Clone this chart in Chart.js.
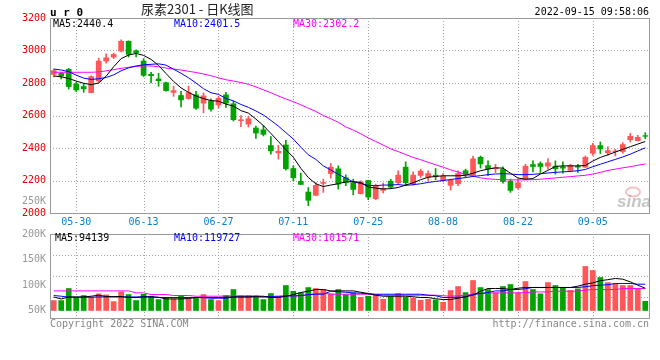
<!DOCTYPE html>
<html>
<head>
<meta charset="utf-8">
<script src="https://cdn.jsdelivr.net/npm/chart.js@4/dist/chart.umd.min.js"></script>
<style>
    html, body { margin: 0; padding: 0; background: #fff; }
    #wrap { position: relative; width: 660px; height: 360px; }
    #wrap canvas { position: absolute; left: 0; top: 0; }
</style>
</head>
<body>
<div id="wrap">
    <canvas id="kChart" width="660" height="360"></canvas>
    <canvas id="volChart" width="660" height="360"></canvas>
</div>
<script>
const dates = ['05-25','05-26','05-27','05-30','05-31','06-01','06-02','06-06','06-07','06-08',
    '06-09','06-10','06-13','06-14','06-15','06-16','06-17','06-20','06-21','06-22',
    '06-23','06-24','06-27','06-28','06-29','06-30','07-01','07-04','07-05','07-06',
    '07-07','07-08','07-11','07-12','07-13','07-14','07-15','07-18','07-19','07-20',
    '07-21','07-22','07-25','07-26','07-27','07-28','07-29','08-01','08-02','08-03',
    '08-04','08-05','08-08','08-09','08-10','08-11','08-12','08-15','08-16','08-17',
    '08-18','08-19','08-22','08-23','08-24','08-25','08-26','08-29','08-30','08-31',
    '09-01','09-02','09-05','09-06','09-07','09-08','09-09','09-13','09-14','09-15'];
const tickDates = ['05-30','06-13','06-27','07-11','07-25','08-08','08-22','09-05'];

const openP = [2851,2861,2886,2796,2780,2739,2810,2933,2957,2994,
    3059,3000,2937,2855,2827,2804,2740,2725,2702,2729,
    2674,2692,2663,2729,2674,2566,2545,2525,2514,2417,
    2368,2421,2276,2196,2131,2107,2180,2241,2274,2219,
    2188,2117,2202,2086,2137,2198,2184,2284,2178,2229,
    2219,2235,2198,2168,2178,2262,2229,2345,2294,2270,
    2270,2198,2153,2208,2300,2306,2286,2290,2286,2260,
    2288,2280,2366,2417,2368,2376,2376,2449,2443,2478];
const highP = [2886,2866,2890,2804,2796,2845,2953,2980,2984,3065,
    3059,3004,2950,2865,2860,2806,2780,2749,2780,2749,
    2739,2702,2718,2743,2688,2600,2596,2535,2539,2470,
    2417,2447,2290,2245,2157,2188,2208,2305,2290,2235,
    2208,2198,2202,2178,2184,2208,2260,2315,2253,2270,
    2260,2274,2243,2208,2260,2270,2351,2351,2321,2300,
    2284,2208,2208,2300,2321,2315,2335,2321,2315,2300,
    2300,2351,2429,2437,2408,2392,2433,2490,2478,2494];
const lowP = [2838,2825,2763,2747,2743,2739,2804,2922,2951,2992,
    2960,2960,2840,2800,2780,2749,2718,2653,2700,2637,
    2616,2627,2647,2649,2566,2531,2529,2459,2474,2362,
    2331,2264,2198,2174,2045,2107,2127,2215,2147,2168,
    2111,2117,2082,2082,2123,2151,2178,2168,2172,2219,
    2198,2204,2192,2141,2168,2219,2229,2276,2229,2249,
    2184,2127,2147,2208,2253,2249,2270,2239,2245,2253,
    2249,2280,2355,2366,2355,2351,2368,2437,2443,2457];
const closeP = [2878,2841,2776,2755,2762,2841,2937,2957,2978,3059,
    2974,2985,2845,2843,2812,2751,2755,2694,2743,2643,
    2723,2637,2708,2674,2572,2576,2582,2490,2482,2380,
    2382,2270,2215,2174,2076,2172,2190,2284,2176,2184,
    2143,2192,2096,2172,2151,2157,2235,2184,2235,2260,
    2245,2225,2229,2204,2245,2235,2335,2300,2270,2280,
    2192,2137,2188,2290,2284,2284,2311,2270,2274,2294,
    2280,2345,2417,2392,2386,2384,2423,2474,2468,2470];

const ma5 = [2843,2838,2828,2812,2798,2790,2800,2842,2900,2950,
    2972,2982,2970,2945,2908,2858,2810,2770,2742,2720,
    2704,2692,2688,2670,2658,2630,2615,2578,2538,2490,
    2440,2390,2343,2275,2218,2180,2163,2172,2180,2192,
    2193,2188,2160,2153,2148,2150,2157,2172,2186,2205,
    2220,2225,2229,2229,2229,2232,2245,2260,2270,2278,
    2276,2245,2215,2208,2212,2240,2262,2287,2290,2290,
    2290,2292,2320,2342,2358,2375,2392,2408,2424,2440];
const ma10 = [2886,2880,2870,2848,2830,2822,2826,2834,2850,2875,
    2893,2905,2912,2915,2918,2910,2885,2860,2832,2800,
    2765,2740,2730,2705,2690,2668,2650,2628,2603,2570,
    2535,2495,2455,2405,2358,2330,2290,2265,2238,2215,
    2192,2182,2170,2168,2172,2172,2175,2170,2174,2180,
    2188,2194,2200,2206,2212,2218,2225,2230,2236,2240,
    2242,2240,2236,2236,2238,2242,2246,2250,2253,2256,
    2260,2268,2285,2300,2315,2330,2345,2362,2382,2401];
const ma30 = [2866,2866,2866,2866,2866,2866,2868,2875,2882,2890,
    2897,2902,2905,2905,2900,2892,2886,2880,2872,2865,
    2855,2845,2832,2820,2812,2803,2792,2776,2758,2740,
    2720,2702,2685,2666,2645,2625,2600,2580,2558,2530,
    2510,2488,2462,2440,2418,2395,2378,2360,2342,2328,
    2312,2297,2282,2266,2252,2238,2226,2216,2210,2207,
    2205,2204,2204,2204,2205,2208,2212,2216,2220,2224,
    2228,2232,2240,2250,2262,2270,2278,2285,2294,2302];

const volume = [70700,70700,94200,77100,80500,77100,83800,81800,68700,87700,
    82400,70700,83000,79100,72600,75200,74000,79100,74000,77100,
    82400,72600,70700,80500,92200,80500,80500,79100,72600,84400,
    79100,100100,88900,85800,96100,94200,92200,83800,92200,82400,
    85800,77100,79100,82400,73200,79100,84400,77100,75200,71300,
    73200,72000,67300,90300,98100,86300,109900,96100,92200,85800,
    98100,102000,85800,107900,92200,83800,105900,100100,96100,90300,
    93600,137300,129400,115700,105900,104000,100100,100100,93600,69300];
const volMa5 = [77100,73200,77100,77100,77100,78500,80500,77900,77900,77900,
    76000,76000,77100,77100,76600,73200,73200,73200,74000,76000,
    76000,76000,76000,76600,77100,77100,77100,78500,78500,76000,
    76000,78500,81800,85800,88300,91600,91600,88900,88900,88900,
    88900,86300,83800,80500,78500,78500,78500,78500,77500,76000,
    76000,73600,72000,72000,74600,77500,80500,88300,93600,93600,
    93600,91600,94200,95600,95600,95600,95600,95600,95600,95600,
    98100,102000,104600,108900,110800,113200,111800,106500,100100,94100];
const volMa10 = [79900,78500,76600,76600,76600,76600,77100,77100,77100,77100,
    77100,77100,77500,77500,76000,76000,76000,76000,76000,76000,
    75600,74600,74600,74600,77100,77100,77100,77100,77100,77900,
    78500,79100,79100,79900,81500,82400,82400,88300,87300,86300,
    85000,84400,83400,82400,82400,82400,82400,82400,82400,82400,
    80500,79500,76000,76000,76600,77100,82400,83800,85800,88900,
    88900,91600,91600,93200,95600,95600,95600,95600,95600,95600,
    95600,97100,99100,100100,101000,103400,103400,103400,102000,102000];
const volMa30 = [88900,88900,88900,88900,88900,88900,88900,88900,88900,88900,
    88900,85000,85000,81800,81800,81800,79900,79900,79900,78500,
    78500,78500,78500,79100,79100,79100,79100,79100,77100,77100,
    77100,79100,79100,79100,81500,83800,84400,82400,82400,82400,
    82400,82400,82400,81500,80500,80500,80500,80500,80500,80500,
    80500,80500,79500,78500,79500,80500,82400,83400,84400,85000,
    85000,85000,85000,85400,86900,86900,86900,88300,88300,88300,
    88300,90300,91600,91600,91600,91600,93600,93600,93600,93600];

const priceTicks = [2000, 2200, 2400, 2600, 2800, 3000, 3200];
const volTicks = [50000, 100000, 150000, 200000];
const volGridTicks = [1, 2, 3];
const volBase = 50000;

const MONO = '"DejaVu Sans Mono", "Liberation Mono", monospace';
const UP = '#ff5757';
const DOWN = '#00a300';
const GRID = '#a4a4a4';

document.addEventListener("DOMContentLoaded", () => {
    const colors = closeP.map((c, i) => c >= openP[i] ? UP : DOWN);

    // dotted grid: verticals on the labelled dates, horizontals on the given scale values
    const dottedGrid = (yScaleId, yValues) => ({
        id: 'dottedGrid',
        beforeDatasetsDraw(chart) {
            const { ctx, chartArea: a, scales } = chart;
            ctx.save();
            ctx.strokeStyle = GRID;
            ctx.lineWidth = 1;
            ctx.setLineDash([1, 2]);
            ctx.beginPath();
            tickDates.forEach(d => {
                const x = Math.round(scales.x.getPixelForValue(dates.indexOf(d))) + 0.5;
                ctx.moveTo(x, a.top);
                ctx.lineTo(x, a.bottom);
            });
            yValues.forEach(v => {
                const y = Math.round(scales[yScaleId].getPixelForValue(v)) + 0.5;
                ctx.moveTo(a.left, y);
                ctx.lineTo(a.right, y);
            });
            ctx.stroke();
            ctx.restore();
        }
    });

    const frame = {
        id: 'frame',
        afterDraw(chart) {
            const { ctx, chartArea: a } = chart;
            ctx.save();
            ctx.strokeStyle = '#9a9a9a';
            ctx.lineWidth = 1;
            ctx.strokeRect(a.left + 0.5, a.top + 0.5, a.right - a.left, a.bottom - a.top);
            ctx.restore();
        }
    };

    const text = (ctx, str, x, y, color, font, align) => {
        ctx.fillStyle = color;
        ctx.font = font;
        ctx.textAlign = align || 'left';
        ctx.textBaseline = 'middle';
        ctx.fillText(str, x, y);
    };

    const kTexts = {
        id: 'kTexts',
        afterDraw(chart) {
            const ctx = chart.ctx;
            ctx.save();
            text(ctx, 'u r 0', 50, 13, '#000', 'bold 11px ' + MONO);
            text(ctx, '尿素2301 - 日K线图', 141, 9, '#222', '13px "Noto Sans CJK SC"');
            text(ctx, '2022-09-15 09:58:06', 649, 12, '#000', '10px ' + MONO, 'right');
            text(ctx, 'MA5:2440.4', 53, 24, '#000', '10px ' + MONO);
            text(ctx, 'MA10:2401.5', 174, 24, '#0000ff', '10px ' + MONO);
            text(ctx, 'MA30:2302.2', 293, 24, '#ff00ff', '10px ' + MONO);
            text(ctx, '250K', 46, 201, '#999', '10px ' + MONO, 'right');
            // sina watermark
            ctx.strokeStyle = 'rgba(230,120,120,0.45)';
            ctx.lineWidth = 2;
            ctx.beginPath();
            ctx.ellipse(633, 192, 7, 4.5, 0, 0, Math.PI * 2);
            ctx.stroke();
            text(ctx, 'sina', 634, 202, 'rgba(150,150,150,0.55)', 'italic bold 17px "Liberation Sans"', 'center');
            ctx.restore();
        }
    };

    const volTexts = {
        id: 'volTexts',
        afterDraw(chart) {
            const ctx = chart.ctx;
            ctx.save();
            text(ctx, 'MA5:94139', 55, 238, '#000', '10px ' + MONO);
            text(ctx, 'MA10:119727', 174, 238, '#0000ff', '10px ' + MONO);
            text(ctx, 'MA30:101571', 293, 238, '#ff00ff', '10px ' + MONO);
            text(ctx, 'Copyright 2022 SINA.COM', 50, 324, '#888', '10px ' + MONO);
            text(ctx, 'http://finance.sina.com.cn', 649, 324, '#888', '10px ' + MONO, 'right');
            ctx.restore();
        }
    };

    const maLine = (label, data, color) => ({
        type: 'line', label, data, borderColor: color, borderWidth: 1,
        pointRadius: 0, tension: 0, order: 1
    });

    const kChart = new Chart(document.getElementById("kChart"), {
        type: 'bar',
        data: {
            labels: dates,
            datasets: [
                maLine('MA5', ma5, '#000000'),
                maLine('MA10', ma10, '#0000ff'),
                maLine('MA30', ma30, '#ff00ff'),
                {
                    label: 'body', data: openP.map((o, i) => [o, closeP[i]]),
                    backgroundColor: colors, grouped: false, minBarLength: 1,
                    barPercentage: 0.76, categoryPercentage: 1, order: 2
                },
                {
                    label: 'wick', data: lowP.map((l, i) => [l, highP[i]]),
                    backgroundColor: colors, grouped: false, barThickness: 1, order: 3
                }
            ]
        },
        options: {
            responsive: false,
            animation: false,
            layout: { padding: { top: 18, right: 11, bottom: 129, left: 0 } },
            plugins: { legend: { display: false }, tooltip: { enabled: false } },
            scales: {
                x: {
                    offset: true,
                    grid: { display: false, drawTicks: false },
                    border: { display: false },
                    ticks: {
                        autoSkip: false, maxRotation: 0, padding: 3,
                        color: '#0a82d2', font: { family: MONO, size: 10 },
                        callback: (v, i) => tickDates.includes(dates[i]) ? dates[i] : ''
                    },
                    afterFit: s => { s.height = 18; }
                },
                y: {
                    min: 2000, max: 3200,
                    afterBuildTicks: s => { s.ticks = priceTicks.map(v => ({ value: v })); },
                    grid: { display: false, drawTicks: false },
                    border: { display: false },
                    ticks: {
                        color: '#e00000', padding: 4, font: { family: MONO, size: 10 },
                        callback: v => String(v)
                    },
                    afterFit: s => { s.width = 50; }
                }
            }
        },
        plugins: [dottedGrid('y', priceTicks), frame, kTexts]
    });

    const volChart = new Chart(document.getElementById("volChart"), {
        type: 'bar',
        data: {
            labels: dates,
            datasets: [
                maLine('MA5', volMa5, '#000000'),
                maLine('MA10', volMa10, '#0000ff'),
                maLine('MA30', volMa30, '#ff00ff'),
                {
                    label: 'volume', data: volume, base: volBase,
                    backgroundColor: colors, barPercentage: 0.76, categoryPercentage: 1, order: 2
                }
            ]
        },
        options: {
            responsive: false,
            animation: false,
            layout: { padding: { top: 234, right: 11, bottom: 42, left: 0 } },
            plugins: { legend: { display: false }, tooltip: { enabled: false } },
            scales: {
                x: {
                    offset: true,
                    grid: { display: false, drawTicks: false },
                    border: { display: false },
                    ticks: { display: false, autoSkip: false },
                    afterFit: s => { s.height = 0; }
                },
                y: {
                    min: 36000, max: 200000,
                    afterBuildTicks: s => { s.ticks = volTicks.map(v => ({ value: v })); },
                    grid: { display: false, drawTicks: false },
                    border: { display: false },
                    ticks: {
                        color: '#999', padding: 4, font: { family: MONO, size: 10 },
                        callback: v => (v / 1000) + 'K'
                    },
                    afterFit: s => { s.width = 50; }
                },
                yg: {
                    display: false, position: 'right', min: 0, max: 4
                }
            }
        },
        plugins: [dottedGrid('yg', volGridTicks), frame, volTexts]
    });
});
</script>
</body>
</html>
